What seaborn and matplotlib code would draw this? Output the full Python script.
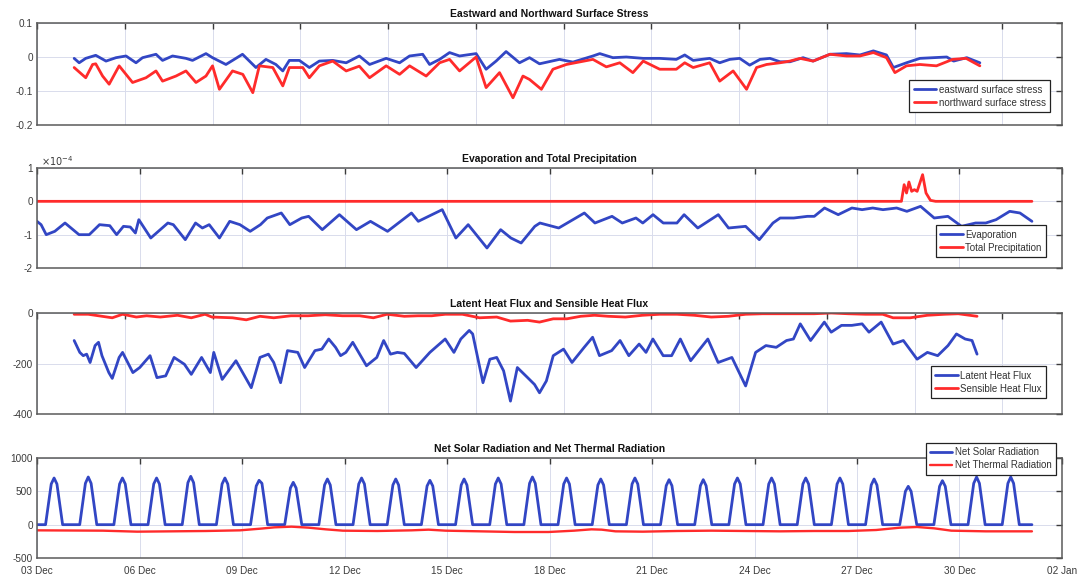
import numpy as np
import matplotlib
matplotlib.use("Agg")
import matplotlib.pyplot as plt
import seaborn as sns
from matplotlib.ticker import FuncFormatter

# ---------------- data (days since 03 Dec 00:00) ----------------
east_day = [0.00,0.16,0.37,0.69,1.02,1.34,1.66,1.98,2.19,2.62,2.83,3.15,3.58,3.79,4.22,4.43,4.86,5.39,5.82,6.14,
            6.46,6.68,6.89,7.21,7.53,7.85,8.28,8.71,9.13,
            9.46,9.99,10.42,10.74,11.16,11.38,11.70,12.02,12.34,12.87,13.19,13.51,13.83,14.26,14.58,14.90,15.54,
            15.97,16.61,16.83,17.25,17.68,18.22,18.75,19.28,19.55,19.82,20.35,20.67,
            20.99,21.31,21.63,21.96,22.28,22.60,22.92,23.34,23.66,24.20,24.73,25.16,25.59,26.01,26.23,26.65,27.08,
            27.51,27.94,28.16,28.58,29.00]
east_stress = [-0.004,-0.017,-0.004,0.005,-0.012,-0.002,0.003,-0.017,-0.002,0.008,-0.010,0.003,-0.004,-0.010,0.010,
               -0.002,-0.022,0.008,-0.031,-0.007,-0.022,-0.041,-0.010,-0.010,-0.031,-0.012,-0.010,-0.017,0.003,
               -0.022,-0.004,-0.017,0.003,0.008,-0.022,-0.007,0.013,0.003,0.010,-0.036,-0.012,0.016,-0.017,-0.002,
               -0.020,-0.007,-0.015,0.003,0.010,-0.002,0.000,-0.004,-0.004,-0.007,0.006,-0.010,-0.004,-0.017,
               -0.007,-0.004,-0.024,-0.007,-0.004,-0.014,-0.014,-0.002,-0.012,0.008,0.010,0.006,0.018,0.006,-0.031,
               -0.017,-0.004,-0.002,0.000,-0.012,-0.002,-0.017]

north_day = [0.00,0.37,0.59,0.69,0.91,1.12,1.44,1.87,2.30,2.62,2.83,3.26,3.58,3.90,4.22,4.43,4.65,5.07,5.40,5.72,
             5.93,6.36,6.68,6.89,7.32,7.53,7.85,8.28,8.71,9.13,
             9.46,9.99,10.42,10.74,11.27,11.70,12.02,12.34,12.87,13.19,13.62,14.05,14.37,14.58,14.96,15.33,15.76,
             16.61,17.04,17.47,17.89,18.22,18.75,19.28,19.55,19.82,20.35,20.67,
             21.10,21.53,21.85,22.17,22.60,22.92,23.24,23.66,24.20,24.73,25.16,25.59,26.01,26.28,26.65,27.08,27.61,
             28.13,28.56,29.00]
north_stress = [-0.031,-0.061,-0.022,-0.020,-0.056,-0.080,-0.026,-0.075,-0.061,-0.041,-0.071,-0.056,-0.041,-0.075,
                -0.056,-0.026,-0.095,-0.041,-0.051,-0.105,-0.026,-0.031,-0.085,-0.031,-0.031,-0.061,-0.026,-0.012,
                -0.041,-0.027,
                -0.061,-0.026,-0.051,-0.026,-0.056,-0.017,-0.007,-0.041,0.000,-0.090,-0.046,-0.120,-0.056,-0.066,
                -0.095,-0.036,-0.022,-0.007,-0.029,-0.017,-0.046,-0.012,-0.036,-0.036,-0.017,-0.031,-0.017,-0.071,
                -0.041,-0.095,-0.031,-0.022,-0.017,-0.012,-0.004,-0.012,0.008,0.003,0.003,0.013,-0.002,-0.046,
                -0.026,-0.022,-0.026,-0.007,-0.004,-0.026]

evap_day = [0.00,0.12,0.27,0.52,0.82,1.23,1.53,1.83,2.13,2.33,2.53,2.73,2.88,2.98,3.33,3.83,3.99,4.34,4.64,4.84,
            5.04,5.34,5.64,5.94,6.24,6.54,6.74,7.15,7.40,7.75,7.95,8.35,8.85,9.35,9.76,10.26,10.96,11.16,11.56,
            11.86,12.26,12.62,13.17,13.57,13.87,14.17,14.57,
            14.72,15.27,16.02,16.33,16.83,17.13,17.53,17.73,18.03,18.33,18.73,18.94,19.34,19.94,20.24,20.74,21.14,
            21.54,21.75,22.15,22.55,22.75,23.05,23.45,23.85,24.15,24.46,24.76,25.16,25.46,25.86,26.26,26.66,27.06,
            27.47,27.77,28.07,28.47,28.77,29.12]
evaporation_e4 = [-0.60,-0.70,-1.00,-0.90,-0.65,-1.00,-1.00,-0.70,-0.73,-1.00,-0.75,-0.77,-0.95,-0.55,-1.10,-0.65,
                  -0.70,-1.15,-0.65,-0.80,-0.70,-1.10,-0.60,-0.70,-0.90,-0.70,-0.50,-0.35,-0.70,-0.50,-0.45,-0.85,
                  -0.40,-0.85,-0.60,-0.90,-0.35,-0.60,-0.40,-0.25,-1.10,-0.70,-1.40,-0.85,-1.10,-1.25,-0.75,
                  -0.65,-0.80,-0.35,-0.65,-0.45,-0.65,-0.50,-0.65,-0.40,-0.65,-0.65,-0.40,-0.80,-0.40,-0.80,-0.75,
                  -1.15,-0.65,-0.50,-0.50,-0.45,-0.45,-0.20,-0.40,-0.20,-0.25,-0.20,-0.25,-0.20,-0.30,-0.15,-0.50,
                  -0.45,-0.75,-0.65,-0.65,-0.55,-0.30,-0.35,-0.60]

precip_day = [0.00,25.30,25.38,25.45,25.52,25.60,25.68,25.76,25.84,25.92,26.02,26.15,26.30,29.12]
precipitation_e4 = [0.0,0.0,0.50,0.25,0.58,0.30,0.35,0.30,0.55,0.80,0.25,0.03,0.0,0.0]

latent_day = [0.00,0.18,0.29,0.40,0.51,0.67,0.78,0.89,1.11,1.22,1.44,1.55,1.88,2.10,2.43,2.65,2.93,3.20,3.53,3.75,
              4.08,4.36,4.47,4.74,5.18,5.67,5.95,6.22,6.39,6.61,6.83,7.16,7.38,7.71,7.93,8.15,8.37,8.53,8.70,8.92,
              9.36,9.69,9.91,10.13,10.35,10.57,10.95,11.39,11.88,12.16,12.38,12.65,12.76,13.09,13.31,13.53,13.75,
              13.97,14.19,14.52,14.74,
              14.90,15.12,15.34,15.67,15.94,16.33,16.60,16.82,17.21,17.48,17.76,18.09,18.31,18.53,18.86,19.13,19.41,
              19.74,20.29,20.62,21.06,21.50,21.82,22.15,22.48,22.81,23.03,23.25,23.58,24.02,24.24,24.57,24.90,25.23,
              25.45,25.84,26.22,26.55,26.99,27.32,27.65,27.98,28.25,28.53,28.75,28.91]
latent_flux = [-109,-156,-169,-163,-196,-129,-116,-169,-236,-259,-176,-156,-236,-216,-169,-256,-249,-176,-203,-243,
               -176,-236,-156,-263,-189,-296,-176,-163,-196,-276,-149,-156,-216,-149,-143,-103,-136,-169,-156,-116,
               -209,-176,-109,-163,-156,-160,-216,-156,-103,-156,-103,-69,-83,-276,-183,-176,-229,-349,-216,-256,
               -283,
               -316,-269,-169,-143,-196,-136,-96,-169,-149,-109,-169,-123,-156,-103,-169,-169,-103,-189,-103,-196,
               -176,-289,-156,-129,-136,-109,-103,-43,-109,-36,-76,-49,-49,-43,-76,-36,-123,-109,-183,-156,-169,
               -129,-83,-103,-109,-163]

sensible_day = [0.00,0.45,0.89,1.22,1.55,1.99,2.32,2.76,3.31,3.75,4.19,4.41,5.07,5.51,5.95,6.39,6.94,7.49,8.04,8.59,
                9.14,9.58,10.02,10.57,11.01,11.45,11.88,12.43,12.98,13.53,13.97,14.52,
                14.90,15.34,15.78,16.22,16.66,17.10,17.65,18.20,18.75,19.30,19.85,20.40,20.95,21.50,22.04,22.59,
                23.14,23.69,24.24,24.79,25.34,25.89,26.22,26.77,27.32,27.87,28.31,28.91]
sensible_flux = [-5,-5,-13,-19,-5,-16,-11,-16,-9,-19,-5,-16,-19,-27,-13,-19,-11,-11,-7,-11,-11,-19,-5,-13,-11,-11,
                 -5,-5,-19,-16,-32,-29,
                 -36,-23,-23,-13,-9,-13,-16,-9,-5,-5,-9,-16,-13,-5,-3,-3,-3,-3,0,-3,-5,-5,-19,-19,-9,-5,-3,-13]

# net solar radiation, one row per day, 2-hourly samples (00, 02, ..., 22 h)
solar_rows = [
    [0,0,0,0,300,610,700,610,300,0,0,0],
    [0,0,0,0,305,620,715,620,305,0,0,0],
    [0,0,0,0,300,610,700,610,300,0,0,0],
    [0,0,0,0,300,610,700,610,300,0,0,0],
    [0,0,0,0,310,630,725,630,310,0,0,0],
    [0,0,0,0,300,610,700,610,300,0,0,0],
    [0,0,0,0,285,580,665,620,320,0,0,0],
    [0,0,0,0,275,550,635,550,275,0,0,0],
    [0,0,0,0,295,595,685,595,295,0,0,0],
    [0,0,0,0,300,610,700,610,300,0,0,0],
    [0,0,0,0,295,595,685,595,295,0,0,0],
    [0,0,0,0,285,580,665,580,285,0,0,0],
    [0,0,0,0,295,595,685,595,295,0,0,0],
    [0,0,0,0,300,610,700,610,300,0,0,0],
    [0,0,0,0,305,620,715,620,305,0,0,0],
    [0,0,0,0,300,610,700,610,300,0,0,0],
    [0,0,0,0,295,595,685,595,295,0,0,0],
    [0,0,0,0,300,610,700,610,300,0,0,0],
    [0,0,0,0,290,585,675,585,290,0,0,0],
    [0,0,0,0,290,585,675,585,290,0,0,0],
    [0,0,0,0,300,610,700,610,300,0,0,0],
    [0,0,0,0,300,610,700,610,300,0,0,0],
    [0,0,0,0,300,610,700,610,300,0,0,0],
    [0,0,0,0,300,610,700,610,300,0,0,0],
    [0,0,0,0,295,595,685,595,295,0,0,0],
    [0,0,0,0,245,500,575,500,245,0,0,0],
    [0,0,0,0,285,575,660,575,285,0,0,0],
    [0,0,0,0,305,620,715,620,305,0,0,0],
    [0,0,0,0,305,620,715,620,305,0,0,0],
]
solar_tail = [0, 0]          # values at day 29.0 and 29.12
solar_tail_day = [29.0, 29.12]

thermal_day = [0.0,1.93,2.93,3.94,4.94,5.94,6.54,6.95,7.45,7.95,8.45,8.95,9.96,10.96,11.46,11.96,12.97,13.97,14.97,
               15.72,16.23,16.53,16.93,17.73,18.73,19.74,20.74,21.75,22.75,23.75,24.56,25.26,25.76,26.26,26.76,
               27.77,29.12]
thermal_rad = [-85,-90,-105,-100,-95,-85,-60,-40,-30,-45,-70,-90,-95,-85,-75,-90,-100,-110,-110,-90,-70,-75,-100,
               -105,-95,-90,-95,-100,-95,-95,-80,-45,-35,-55,-90,-100,-100]

date_ticks = [0, 3, 6, 9, 12, 15, 18, 21, 24, 27, 30]
date_labels = ["03 Dec", "06 Dec", "09 Dec", "12 Dec", "15 Dec", "18 Dec",
               "21 Dec", "24 Dec", "27 Dec", "30 Dec", "02 Jan"]

titles = ["Eastward and Northward Surface Stress",
          "Evaporation and Total Precipitation",
          "Latent Heat Flux and Sensible Heat Flux",
          "Net Solar Radiation and Net Thermal Radiation"]

# ---------------- derived ----------------
solar_day = [d + h / 24 for d in range(len(solar_rows)) for h in range(0, 24, 2)] + solar_tail_day
solar_rad = [v for row in solar_rows for v in row] + solar_tail
evaporation = [v * 1e-4 for v in evaporation_e4]
precipitation = [v * 1e-4 for v in precipitation_e4]

# ---------------- style ----------------
sns.set_theme(style="white")
plt.rcParams["font.family"] = ["Liberation Sans", "DejaVu Sans"]
plt.rcParams["axes.unicode_minus"] = False

BLUE = "#3246c4"
RED = "#ff2b2b"
LW = 2.0
TXT = "#3a3a3a"

fig = plt.figure(figsize=(10.81, 5.80), dpi=100)
W, H = 1081.0, 580.0


def add_axes(l, t, r, b):
    return fig.add_axes([l / W, 1 - b / H, (r - l) / W, (b - t) / H])


ax1 = add_axes(37, 23, 1062, 125)
ax2 = add_axes(37, 168, 1062, 268)
ax3 = add_axes(37, 313, 1062, 414)
ax4 = add_axes(37, 458, 1062, 558)


def line(ax, x, y, color, label, lw=LW):
    sns.lineplot(x=x, y=y, ax=ax, color=color, lw=lw, label=label, sort=False, estimator=None)


line(ax1, east_day, east_stress, BLUE, "eastward surface stress")
line(ax1, north_day, north_stress, RED, "northward surface stress")
line(ax2, evap_day, evaporation, BLUE, "Evaporation")
line(ax2, precip_day, precipitation, RED, "Total Precipitation")
line(ax3, latent_day, latent_flux, BLUE, "Latent Heat Flux")
line(ax3, sensible_day, sensible_flux, RED, "Sensible Heat Flux")
line(ax4, solar_day, solar_rad, BLUE, "Net Solar Radiation")
line(ax4, thermal_day, thermal_rad, RED, "Net Thermal Radiation", lw=1.7)

# panels 1 and 3 use a wider time window
alt_lim = (-1.19, 31.63)
alt_ticks = np.arange(-1.19, 31.0, 2.81)

settings = [
    (ax1, alt_lim, alt_ticks, (-0.2, 0.1), [-0.2, -0.1, 0, 0.1]),
    (ax2, (0, 30), date_ticks, (-2e-4, 1e-4), [-2e-4, -1e-4, 0, 1e-4]),
    (ax3, alt_lim, alt_ticks, (-400, 0), [-400, -200, 0]),
    (ax4, (0, 30), date_ticks, (-500, 1000), [-500, 0, 500, 1000]),
]
for ax, xl, xt, yl, yt in settings:
    ax.set_xlim(xl)
    ax.set_xticks(xt)
    ax.set_ylim(yl)
    ax.set_yticks(yt)
    ax.set_xlabel("")
    ax.set_ylabel("")
    ax.set_axisbelow(True)
    ax.grid(True, color="#d9dcec", lw=0.7)
    ax.tick_params(direction="in", length=4.5, width=1.0, top=True, right=True,
                   labelsize=7.2, colors=TXT, pad=3)
    for s in ax.spines.values():
        s.set_color("#5a5a5a")
        s.set_linewidth(1.1)

for ax in (ax1, ax2, ax3):
    ax.tick_params(labelbottom=False)
ax4.tick_params(axis="x", pad=5.5)

gfmt = FuncFormatter(lambda v, p: f"{v:g}")
ax1.yaxis.set_major_formatter(gfmt)
ax3.yaxis.set_major_formatter(gfmt)
ax4.yaxis.set_major_formatter(gfmt)
ax2.yaxis.set_major_formatter(FuncFormatter(lambda v, p: f"{round(v * 1e4):d}"))
ax2.text(0.004, 1.005, r"$\times10^{-4}$", transform=ax2.transAxes, fontsize=7,
         color=TXT, ha="left", va="bottom")
ax4.set_xticklabels(date_labels)

for ax, t in zip((ax1, ax2, ax3, ax4), titles):
    ax.set_title(t, fontsize=7.5, fontweight="bold", color="#111111", pad=4)


def legend(ax, loc, anchor):
    leg = ax.legend(loc=loc, bbox_to_anchor=anchor, bbox_transform=fig.transFigure,
                    fontsize=7, frameon=True, fancybox=False, edgecolor="#222222",
                    framealpha=1, borderpad=0.45, labelspacing=0.3, handlelength=2.3,
                    handletextpad=0.25, borderaxespad=0)
    leg.get_frame().set_linewidth(0.9)
    for txt in leg.get_texts():
        txt.set_color("#333333")
    return leg


legend(ax1, "lower right", (1050 / W, 1 - 112 / H))
legend(ax2, "lower right", (1046 / W, 1 - 257 / H))
legend(ax3, "lower right", (1046 / W, 1 - 398 / H))
legend(ax4, "upper right", (1056 / W, 1 - 443 / H))

fig.savefig("out.png", dpi=100)
